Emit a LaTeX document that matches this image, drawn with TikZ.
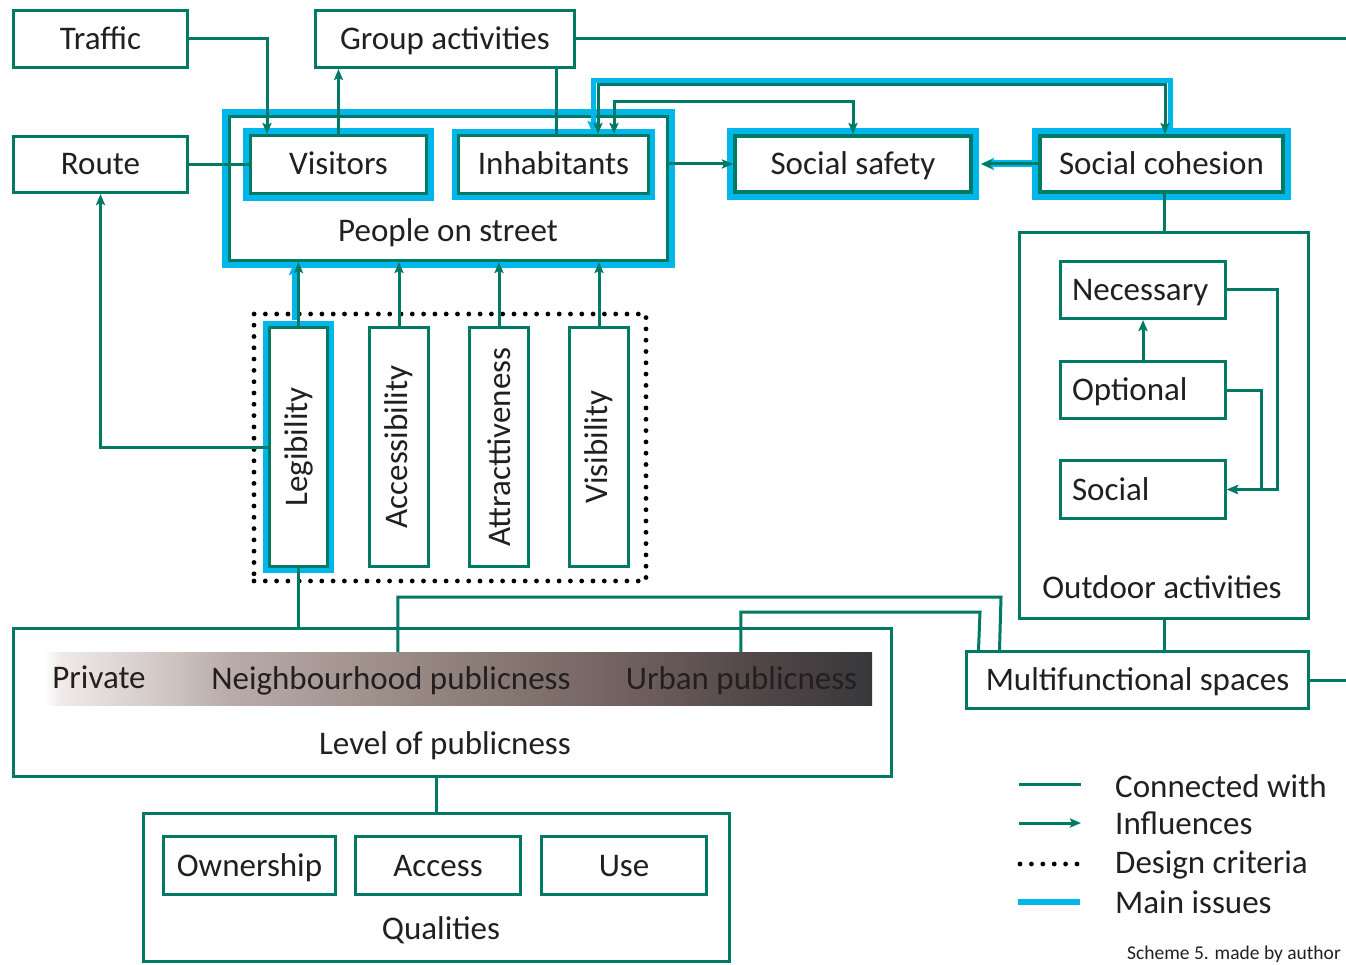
\documentclass[tikz,border=0pt]{standalone}
\usepackage{fontspec}
\setmainfont{Carlito}
\usetikzlibrary{arrows.meta,calc}
\definecolor{gr}{RGB}{0,122,101}
\definecolor{cy}{RGB}{0,183,235}
\definecolor{tx}{RGB}{35,31,32}
\definecolor{gA}{HTML}{F0EBEA}
\definecolor{gB}{HTML}{D5CCC9}
\definecolor{gC}{HTML}{B9ACA8}
\definecolor{gD}{HTML}{9B8B87}
\definecolor{gE}{HTML}{887874}
\definecolor{gF}{HTML}{6C5D5A}
\definecolor{gG}{HTML}{504647}
\definecolor{gH}{HTML}{38383B}
\pgfdeclarehorizontalshading{pubshade}{100bp}{color(0bp)=(white); color(25bp)=(white); color(25.95bp)=(gA); color(31.4bp)=(gB); color(36.25bp)=(gC); color(46.5bp)=(gD); color(52.5bp)=(gE); color(61.5bp)=(gF); color(68.25bp)=(gG); color(75bp)=(gH); color(100bp)=(gH)}
\pgfdeclarelayer{bg}
\pgfdeclarelayer{mid}
\pgfsetlayers{bg,mid,main}
\begin{document}
\begin{tikzpicture}[x=1pt,y=-1pt,font=\fontsize{33}{40}\selectfont,text=tx,
  box/.style={draw=gr,line width=3pt,fill=white,inner sep=0pt,text height=21pt,text depth=0pt},
  mainbox/.style={box,preaction={draw=cy,line width=#1}},
  mainbox/.default=14pt,
  vbox/.style={draw=gr,line width=3pt,fill=white,inner sep=0pt,minimum width=59pt,minimum height=239pt},
  lbl/.style={inner sep=0pt,text height=21pt,text depth=0pt},
  line/.style={draw=gr,line width=3pt},
  arr/.style={line,-{Stealth[length=11pt,width=9pt,inset=2pt]}},
  biarr/.style={line,{Stealth[length=11pt,width=9pt,inset=2pt]}-{Stealth[length=11pt,width=9pt,inset=2pt]}},
  cyl/.style={draw=cy,line width=5pt},
  dots/.style={draw=black,line width=4.8pt,dash pattern=on 0pt off 11.3pt,line cap=round}]
\useasboundingbox (0,0) rectangle (1346,965);

% containers
\begin{pgfonlayer}{bg}
\node[mainbox=15pt,minimum width=438pt,minimum height=144pt] (people) at (448.5,188.5) {};
\node[dots,minimum width=392pt,minimum height=267pt,inner sep=0pt] (criteria) at (450,447.5) {};
\node[box,minimum width=289pt,minimum height=386pt] (outdoor) at (1164,425.5) {};
\node[box,minimum width=878pt,minimum height=148pt] (level) at (452.5,702.5) {};
\node[box,minimum width=586pt,minimum height=148pt] (qual) at (436.5,887.5) {};
\end{pgfonlayer}

% boxes
\node[box,minimum width=174pt,minimum height=57pt] (traffic) at (100.5,39) {Traffic};
\node[box,minimum width=174pt,minimum height=56pt] (route) at (100.5,164.5) {Route};
\node[box,minimum width=259pt,minimum height=57pt] (group) at (445,39) {Group activities};
\node[lbl] (peoplelbl) at (448,231) {People on street};
\node[mainbox=15pt,minimum width=176pt,minimum height=58pt] (visitors) at (338.5,164.5) {Visitors};
\node[mainbox=13pt,minimum width=190pt,minimum height=58pt] (inhab) at (553.5,164.5) {Inhabitants};
\node[mainbox=16pt,line width=4pt,minimum width=236pt,minimum height=56pt] (safety) at (853,164) {Social safety};
\node[mainbox=16pt,line width=4pt,minimum width=243pt,minimum height=56pt] (cohesion) at (1161.5,164) {Social cohesion};

\node[vbox,minimum width=58pt,preaction={draw=cy,line width=13pt}] (legib) at (298.5,447) {\rotatebox{90}{Legibility}};
\node[vbox] (access2) at (399,447) {\rotatebox{90}{Accessibility}};
\node[vbox] (attract) at (499,447) {\rotatebox{90}{Attracttiveness}};
\node[vbox] (visib) at (599,447) {\rotatebox{90}{Visibility}};

\node[lbl] (outdoorlbl) at (1162,588) {Outdoor activities};
\node[box,minimum width=165pt,minimum height=57pt] (necessary) at (1143,290) {\makebox[142pt][l]{Necessary}};
\node[box,minimum width=165pt,minimum height=57pt] (optional) at (1143,390) {\makebox[142pt][l]{Optional}};
\node[box,minimum width=165pt,minimum height=58pt] (social) at (1143,489.5) {\makebox[142pt][l]{Social}};
\node[box,minimum width=342pt,minimum height=57pt] (multi) at (1137.5,680) {Multifunctional spaces};

\node[draw=none,shade,shading=pubshade,minimum width=828pt,minimum height=53pt,inner sep=0pt] (bar) at (458,678.5) {};
\node[lbl] (private) at (99,678) {Private};
\node[lbl] (neigh) at (391,679) {Neighbourhood publicness};
\node[lbl] (urban) at (741.5,679) {Urban publicness};
\node[lbl] (levellbl) at (445,744) {Level of publicness};

\node[lbl] (quallbl) at (441,929) {Qualities};
\node[box,minimum width=172pt,minimum height=58pt] (owner) at (249.5,865.5) {Ownership};
\node[box,minimum width=165pt,minimum height=58pt] (accq) at (438,865.5) {Access};
\node[box,minimum width=165pt,minimum height=58pt] (use) at (624,865.5) {Use};

% cyan connectors (main issues)
\coordinate (lc) at ($(legib.north)+(-4,-6)$);
\coordinate (ce) at ($(cohesion.north)+(8.5,0)$);
\coordinate (ie) at ($(inhab.north)+(39.5,0)$);
\begin{pgfonlayer}{mid}
\draw[cyl,-{Stealth[length=13pt,width=11pt,inset=2pt]}] (lc) -- (lc |- people.south);
\draw[cyl,line width=7pt,-{Stealth[length=13pt,width=12pt,inset=2pt]}] (cohesion.west) -- ($(safety.east)+(8,0)$);
\draw[cyl,-{Stealth[length=13pt,width=11pt,inset=2pt]}] (ce) |- (593,81) -- (ie);
\end{pgfonlayer}

% green connectors
\coordinate (tv) at ($(visitors.north)+(-71.5,0)$);
\draw[arr] (traffic.east) -| (tv);
\draw[line] (route.east) -- (visitors.west);
\draw[arr] (visitors.north) -- (visitors.north |- group.south);
\coordinate (gi) at ($(inhab.north)+(2.5,0)$);
\draw[line] (gi) -- (gi |- group.south);
\coordinate (edge1) at (1350,39);
\draw[line] (group.east) -- (edge1);
\draw[arr] (people.east |- safety.west) -- (safety.west);
\draw[arr] (cohesion.west) -- ($(safety.east)+(8,0)$);
\coordinate (io) at ($(inhab.north)+(44.5,0)$);
\coordinate (co) at ($(cohesion.north)+(3.5,0)$);
\draw[biarr] (io) |- (1165,85) -- (co);
\coordinate (ii) at ($(inhab.north)+(60.5,0)$);
\draw[biarr] (ii) |- (853,102) -- (safety.north);
\draw[line] (outdoor.north) -- (outdoor.north |- cohesion.south);
\draw[arr] (optional.north) -- (necessary.south);
\draw[arr] (necessary.east) -- (1277,290) |- (social.east);
\draw[arr] (optional.east) -- (1261,390) |- (social.east);
\draw[line] (outdoor.south) -- (outdoor.south |- multi.north);
\coordinate (edge2) at (1350,680);
\draw[line] (multi.east) -- (edge2);
\draw[line] ($(bar.north west)+(354,0)$) |- (1001,597) -- ($(multi.north west)+(34.5,0)$);
\draw[line] ($(bar.north west)+(697,0)$) |- (980,612) -- ($(multi.north west)+(13.5,0)$);
\draw[line] (legib.south) -- (legib.south |- level.north);
\draw[arr] (legib.west) -| (route.south);
\foreach \n in {legib,access2,attract,visib}{
  \draw[arr] (\n.north) -- (\n.north |- people.south);
}
\draw[line] (qual.north) -- (qual.north |- level.south);

% legend
\coordinate (la1) at (1019,784); \coordinate (lb1) at (1081,784);
\coordinate (la2) at (1019,823); \coordinate (lb2) at (1081,823);
\coordinate (la3) at (1020,864); \coordinate (lb3) at (1078,864);
\coordinate (la4) at (1018,902); \coordinate (lb4) at (1080,902);
\draw[line] (la1) -- (lb1);
\draw[arr] (la2) -- (lb2);
\draw[dots,dash pattern=on 0pt off 11.4pt] (la3) -- (lb3);
\draw[draw=cy,line width=6pt] (la4) -- (lb4);
\node[anchor=base west,inner sep=0pt] (leg1) at (1115,797) {Connected with};
\node[anchor=base west,inner sep=0pt] (leg2) at (1115,834) {Influences};
\node[anchor=base west,inner sep=0pt] (leg3) at (1115,873) {Design criteria};
\node[anchor=base west,inner sep=0pt] (leg4) at (1115,913) {Main issues};
\node[anchor=base west,inner sep=0pt,font=\fontsize{19.5}{22}\selectfont] (caption) at (1127,959) {Scheme 5. made by author};
\end{tikzpicture}
\end{document}
